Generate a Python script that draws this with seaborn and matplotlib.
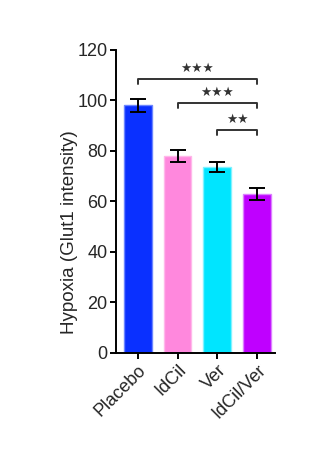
import matplotlib
matplotlib.use("Agg")
import matplotlib.pyplot as plt
import seaborn as sns
import pandas as pd
import numpy as np

categories = ["Placebo", "IdCil", "Ver", "IdCil/Ver"]
means = [98.0, 78.0, 73.7, 63.0]
errors = [2.6, 2.4, 2.1, 2.5]
colors = ["#0A30FF", "#FF88DD", "#00E5FF", "#BF00FF"]
edge_colors = ["#6C86FF", "#FFB8EA", "#80F2FF", "#DC80FF"]
yticks = [0, 20, 40, 60, 80, 100, 120]
brackets = [(0, 3, 108.3, "★★★"), (1, 3, 99.0, "★★★"), (2, 3, 88.3, "★★")]

sns.set_style("ticks")
plt.rcParams['font.family'] = ['Liberation Sans', 'DejaVu Sans']

df = pd.DataFrame({"group": categories, "value": means})

fig = plt.figure(figsize=(3.31, 4.62), dpi=100)
ax = fig.add_axes([0.350, 0.236, 0.481, 0.656])

sns.barplot(data=df, x="group", y="value", hue="group", palette=colors,
            legend=False, width=0.7, errorbar=None, ax=ax, saturation=1)
for patch, ec in zip(ax.patches, edge_colors):
    patch.set_edgecolor(ec)
    patch.set_linewidth(1.0)

ax.errorbar(np.arange(len(categories)), means, yerr=errors, fmt="none",
            ecolor="black", elinewidth=1.4, capsize=5.5, capthick=1.4)

for x1, x2, y, label in brackets:
    h = 2.0
    ax.plot([x1, x1, x2, x2], [y - h, y, y, y - h], color="#333333", lw=1.4,
            clip_on=False)
    ax.text((x1 + x2) / 2, y + 1.6, label, ha="center", va="bottom",
            fontsize=9, color="#333333", family="DejaVu Sans")

ax.set_ylim(0, 120)
ax.set_xlim(-0.55, 3.45)
ax.set_yticks(yticks)
ax.set_yticklabels([str(t) for t in yticks], fontsize=13)
ax.set_xticks(range(len(categories)))
ax.set_xticklabels(categories, fontsize=13, rotation=45, ha="right",
                   rotation_mode="anchor")
ax.set_xlabel("")
ax.set_ylabel("Hypoxia (Glut1 intensity)", fontsize=13.5)
ax.yaxis.set_label_coords(-0.235, 0.40)

for side in ["top", "right"]:
    ax.spines[side].set_visible(False)
for side in ["left", "bottom"]:
    ax.spines[side].set_linewidth(1.4)
    ax.spines[side].set_color("black")
ax.tick_params(axis="both", width=1.4, length=4, color="black", pad=2)

fig.savefig("out.png", dpi=100)
